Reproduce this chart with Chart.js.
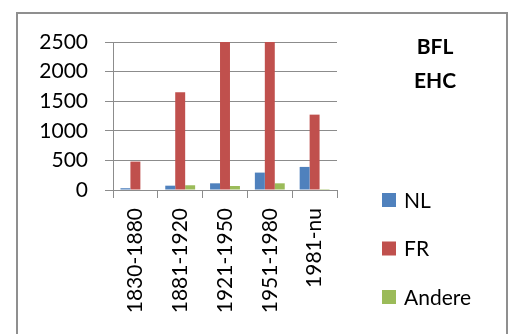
<!DOCTYPE html>
<html>
<head>
<meta charset="utf-8">
<script src="https://cdn.jsdelivr.net/npm/chart.js@4.4.1/dist/chart.umd.min.js"></script>
<style>
  html, body { margin: 0; padding: 0; background: #fff; }
  #wrap { position: relative; width: 511px; height: 334px; }
</style>
</head>
<body>
<div id="wrap"><canvas id="c" width="511" height="334"></canvas></div>
<script>
// Periods on the category axis
const periods = ['1830-1880', '1881-1920', '1921-1950', '1951-1980', '1981-nu'];
// Counts per language group
const nlValues = [30, 73, 113, 294, 390];
const frValues = [480, 1652, 2900, 2800, 1273];
const andereValues = [0, 80, 68, 113, 15];
// Series names and colours
const seriesNames = ['NL', 'FR', 'Andere'];
const seriesColors = ['#4F81BD', '#C0504D', '#9BBB59'];
// Title lines shown at the top right
const titleLines = ['BFL', 'EHC'];
// Value axis ticks
const yMax = 2500;
const yStep = 500;

const FONT = 'Lato';
const FONT_SIZE = 21;
const gridColor = '#8c8c8c';

// Outer frame, side title and legend, drawn next to the plot
const framePlugin = {
  id: 'frameTitleLegend',
  afterDraw(chart) {
    const ctx = chart.ctx;
    const area = chart.chartArea;
    ctx.save();
    ctx.strokeStyle = '#8f8f8f';
    ctx.lineWidth = 2;
    ctx.strokeRect(17, 13, 490, 400);

    // title
    ctx.fillStyle = '#000';
    ctx.font = 'bold ' + FONT_SIZE + 'px ' + FONT;
    ctx.textAlign = 'center';
    ctx.textBaseline = 'middle';
    const tx = area.right + 98;
    titleLines.forEach((t, i) => ctx.fillText(t, tx, area.top + 5 + i * 34));

    // legend
    ctx.font = FONT_SIZE + 'px ' + FONT;
    ctx.textAlign = 'left';
    const lx = area.right + 45;
    chart.data.datasets.forEach((ds, i) => {
      const cy = area.bottom + 10 + i * 48.5;
      ctx.fillStyle = ds.backgroundColor;
      ctx.fillRect(lx, cy - 7, 14, 14);
      ctx.fillStyle = '#000';
      ctx.fillText(ds.label, lx + 22, cy + 1);
    });
    ctx.restore();
  }
};

const valueSeries = [nlValues, frValues, andereValues];

new Chart(document.getElementById('c'), {
  type: 'bar',
  data: {
    labels: periods,
    datasets: valueSeries.map((vals, i) => ({
      label: seriesNames[i],
      data: vals,
      backgroundColor: seriesColors[i],
      borderWidth: 0,
      categoryPercentage: 0.667,
      barPercentage: 1.0
    }))
  },
  options: {
    responsive: false,
    animation: false,
    events: [],
    layout: { padding: { left: 0, top: 42, right: 174, bottom: 0 } },
    plugins: {
      legend: { display: false },
      title: { display: false },
      tooltip: { enabled: false }
    },
    scales: {
      x: {
        afterFit: (s) => { s.height = 144; },
        grid: {
          drawOnChartArea: false,
          drawTicks: true,
          tickLength: 8,
          color: gridColor,
          offset: true
        },
        border: { display: true, color: gridColor, width: 1 },
        ticks: {
          autoSkip: false,
          minRotation: 90,
          maxRotation: 90,
          padding: 10,
          color: '#000',
          font: { family: FONT, size: FONT_SIZE }
        }
      },
      y: {
        min: 0,
        max: yMax,
        afterFit: (s) => { s.width = 113; },
        grid: {
          color: gridColor,
          tickLength: 8,
          lineWidth: 1
        },
        border: { display: true, color: gridColor, width: 1 },
        ticks: {
          autoSkip: false,
          stepSize: yStep,
          padding: 17,
          color: '#000',
          font: { family: FONT, size: FONT_SIZE, lineHeight: 1.0 },
          callback: (v) => String(v)
        }
      }
    }
  },
  plugins: [framePlugin]
});
</script>
</body>
</html>
